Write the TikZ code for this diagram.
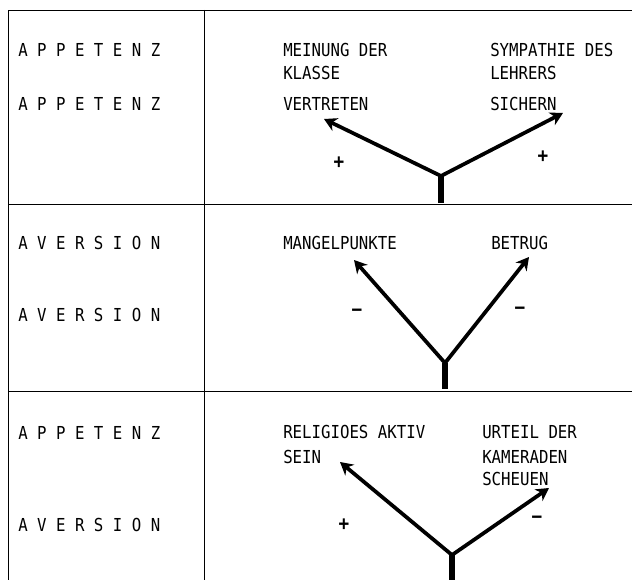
\documentclass[tikz,border=0pt]{standalone}
\usepackage{fontspec}
\setmonofont[FakeStretch=0.88]{DejaVu Sans Mono}
\usetikzlibrary{arrows.meta}
\tikzset{
  lbl/.style={anchor=west,inner sep=0pt,font=\fontsize{13.4pt}{15pt}\ttfamily},
  sgn/.style={inner sep=0pt,font=\fontsize{15pt}{17pt}\ttfamily\bfseries},
  frame/.style={line width=0.7pt},
  arr/.style={line width=2.8pt,-{Stealth[length=9.5pt,width=10.5pt,inset=3pt]}},
  stem/.style={line width=3.8pt}
}
\begin{document}
\begin{tikzpicture}[x=0.75pt,y=-0.75pt]
    \useasboundingbox (0,0) rectangle (632,580);
    \draw[frame] (8,580) -- (8,10) -- (632,10);
    \draw[frame] (204,10) -- (204,580);
    \draw[frame] (8,204) -- (632,204);
    \draw[frame] (8,391) -- (632,391);
    \node[lbl] (a1) at (18,50) {A P P E T E N Z};
    \node[lbl] (a2) at (18,104) {A P P E T E N Z};
    \node[lbl] (v1) at (18,243) {A V E R S I O N};
    \node[lbl] (v2) at (18,315) {A V E R S I O N};
    \node[lbl] (a3) at (18,433) {A P P E T E N Z};
    \node[lbl] (v3) at (18,525) {A V E R S I O N};
    \node[lbl] (meinung) at (283,50) {MEINUNG DER};
    \node[lbl] (klasse) at (283,73) {KLASSE};
    \node[lbl] (vertreten) at (283,104) {VERTRETEN};
    \node[lbl] (sympathie) at (490,50) {SYMPATHIE DES};
    \node[lbl] (lehrers) at (490,73) {LEHRERS};
    \node[lbl] (sichern) at (490,104) {SICHERN};
    \coordinate (j1) at (441,176);
    \coordinate (s1) at (441,203);
    \coordinate (t1l) at (324,119);
    \coordinate (t1r) at (563,113);
    \draw[arr] (j1) -- (t1l);
    \draw[arr] (j1) -- (t1r);
    \draw[stem] (j1) -- (s1);
    \node[sgn] (p1l) at (339,163) {+};
    \node[sgn] (p1r) at (543,157) {+};
    \node[lbl] (mangel) at (283,243) {MANGELPUNKTE};
    \node[lbl] (betrug) at (491,243) {BETRUG};
    \coordinate (j2) at (445,363);
    \coordinate (s2) at (445,389);
    \coordinate (t2l) at (354,260);
    \coordinate (t2r) at (529,257);
    \draw[arr] (j2) -- (t2l);
    \draw[arr] (j2) -- (t2r);
    \draw[stem] (j2) -- (s2);
    \node[sgn] (m2l) at (357,313) {−};
    \node[sgn] (m2r) at (520,311) {−};
    \node[lbl] (religioes) at (283,432) {RELIGIOES AKTIV};
    \node[lbl] (sein) at (283,457) {SEIN};
    \node[lbl] (urteil) at (482,432) {URTEIL DER};
    \node[lbl] (kameraden) at (482,457) {KAMERADEN};
    \node[lbl] (scheuen) at (482,479) {SCHEUEN};
    \coordinate (j3) at (452,555);
    \coordinate (s3) at (452,580);
    \coordinate (t3l) at (340,462);
    \coordinate (t3r) at (549,488);
    \draw[arr] (j3) -- (t3l);
    \draw[arr] (j3) -- (t3r);
    \draw[stem] (j3) -- (s3);
    \node[sgn] (p3l) at (344,525) {+};
    \node[sgn] (m3r) at (537,520) {−};
\end{tikzpicture}
\end{document}
